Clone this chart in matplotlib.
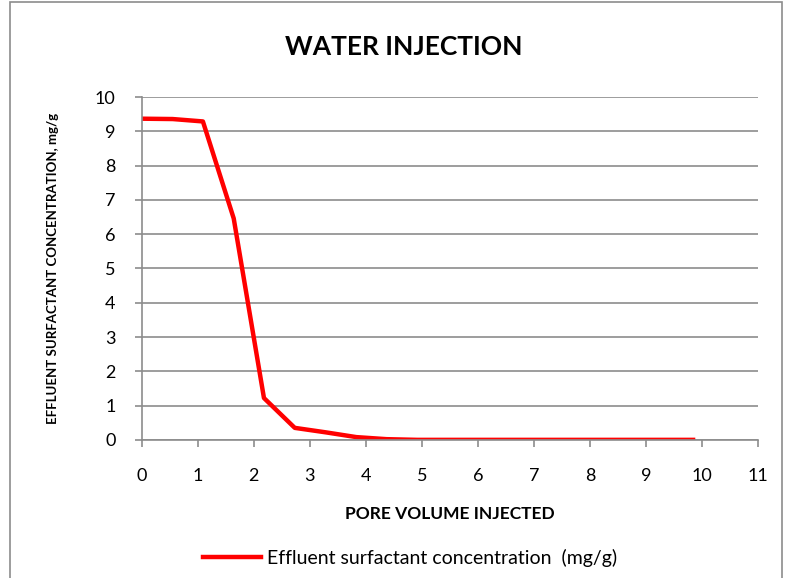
import matplotlib.pyplot as plt
from matplotlib.patches import Rectangle

plt.rcParams['font.family'] = ['Lato', 'DejaVu Sans']

pore_volume = [0, 0.55, 1.09, 1.64, 2.18, 2.73, 3.28, 3.83, 4.37, 4.92, 5.47,
               6.01, 6.56, 7.11, 7.65, 8.2, 8.75, 9.3, 9.84]
concentration = [9.37, 9.36, 9.29, 6.46, 1.22, 0.35, 0.22, 0.08, 0.02, 0.0, 0.0,
                 0.0, 0.0, 0.0, 0.0, 0.0, 0.0, 0.0, 0.0]

fig = plt.figure(figsize=(7.88, 5.78), dpi=100)
fig.patches.append(Rectangle((0.013, -0.01), 0.98, 1.006, transform=fig.transFigure,
                             fill=False, edgecolor='#8c8c8c', linewidth=1.2))

ax = fig.add_axes([0.180, 0.239, 0.782, 0.593])
ax.plot(pore_volume, concentration, color='#ff0000', linewidth=3.2,
        label='Effluent surfactant concentration  (mg/g)')

ax.set_xlim(0, 11)
ax.set_ylim(0, 10)
ax.set_xticks(range(0, 12))
ax.set_yticks(range(0, 11))
ax.grid(axis='y', color='#8c8c8c', linewidth=1.2)
ax.set_axisbelow(True)
for s in ['top', 'right']:
    ax.spines[s].set_visible(False)
for s in ['left', 'bottom']:
    ax.spines[s].set_color('#8c8c8c')
    ax.spines[s].set_linewidth(1.2)
ax.tick_params(colors='#8c8c8c', labelcolor='black', labelsize=13, length=5, width=1.2)
ax.tick_params(axis='y', pad=14)
ax.tick_params(axis='x', pad=15)

# title sits centred on the chart area, not the plot area
ax.set_title('WATER INJECTION', fontsize=19, fontweight='bold', pad=30, x=0.425)
ax.set_xlabel('PORE VOLUME INJECTED', fontsize=12.5, fontweight='bold', labelpad=16)
ax.set_ylabel('EFFLUENT SURFACTANT CONCENTRATION, mg/g', fontsize=9.5, fontweight='bold', labelpad=26)

fig.legend(loc='center', bbox_to_anchor=(0.52, 0.035), frameon=False, fontsize=14,
           handlelength=3.0, handletextpad=0.3)

fig.savefig('out.png', dpi=100)
